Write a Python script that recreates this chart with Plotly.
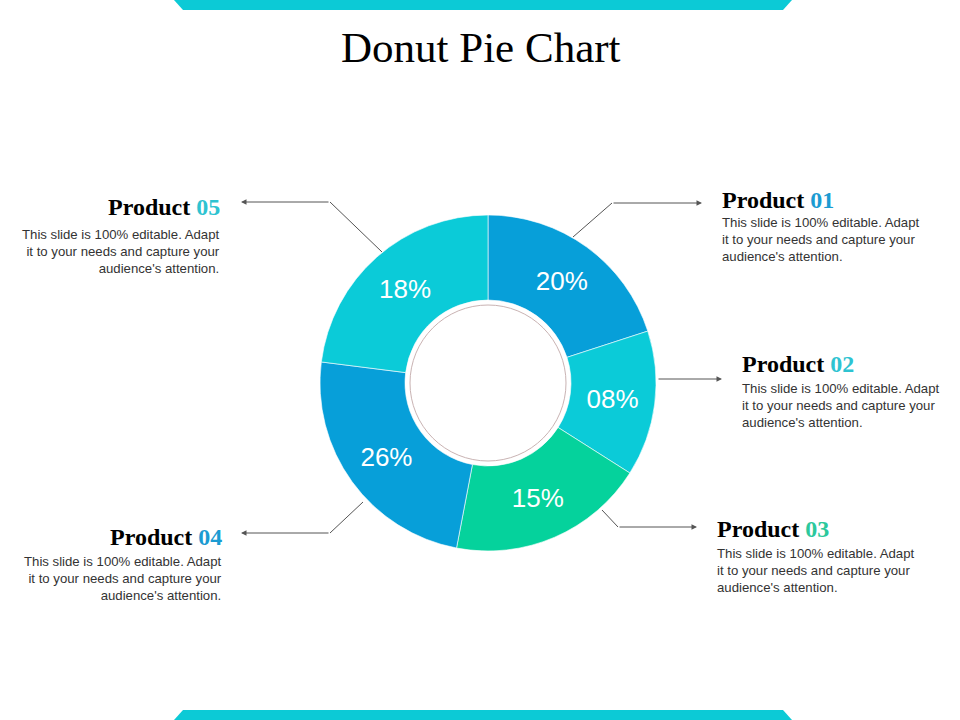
import plotly.graph_objects as go

# slice data (slice sizes follow the drawn angles,
# the printed labels are what the slide shows)
products = ["Product 01", "Product 02", "Product 03", "Product 04", "Product 05"]
slice_sizes = [20, 14, 19, 24, 23]
slice_labels = ["20%", "08%", "15%", "26%", "18%"]
slice_colors = ["#079fd9", "#0bcbd8", "#05d29c", "#079fd9", "#0bcbd8"]
number_colors = ["#1b9bd2", "#2ec3d1", "#2cc89c", "#1b9bd2", "#2ec3d1"]
blurb = "This slide is 100% editable. Adapt<br>it to your needs and capture your<br>audience's attention."

W, H = 960, 720


def px(x):
    return x / W


def py(y):
    return 1 - y / H


# donut geometry in pixels
cx, cy, r_out, r_in = 488, 383, 168, 83

fig = go.Figure(go.Pie(
    labels=products,
    values=slice_sizes,
    text=slice_labels,
    textinfo="text",
    textposition="inside",
    insidetextorientation="horizontal",
    textfont=dict(family="Liberation Sans, Arial", size=26, color="white"),
    marker=dict(colors=slice_colors, line=dict(color="rgba(255,255,255,0.6)", width=1)),
    hole=r_in / r_out,
    sort=False,
    direction="clockwise",
    rotation=0,
    showlegend=False,
    hoverinfo="label+text",
    domain=dict(x=[px(cx - r_out), px(cx + r_out)], y=[py(cy + r_out), py(cy - r_out)]),
))

shapes = []
# teal bars at top and bottom of the slide
shapes.append(dict(type="path", xref="paper", yref="paper",
                   path=f"M {px(174)},{py(0)} L {px(792)},{py(0)} L {px(783)},{py(10)} L {px(183)},{py(10)} Z",
                   fillcolor="#0ccad6", line=dict(width=0)))
shapes.append(dict(type="path", xref="paper", yref="paper",
                   path=f"M {px(183)},{py(710)} L {px(783)},{py(710)} L {px(792)},{py(720)} L {px(174)},{py(720)} Z",
                   fillcolor="#0ccad6", line=dict(width=0)))
# thin ring inside the hole
shapes.append(dict(type="circle", xref="paper", yref="paper",
                   x0=px(cx - 78), x1=px(cx + 78), y0=py(cy + 78), y1=py(cy - 78),
                   line=dict(color="#c9b3b3", width=1)))

# connector lines: (start on donut, elbow, arrow tip)
connectors = [
    ((573, 237), (612, 203), (702, 203)),
    ((657, 379), (657, 379), (722, 379)),
    ((602, 510), (618, 527), (697, 527)),
    ((363, 502), (330, 533), (241, 533)),
    ((382, 252), (330, 202), (241, 202)),
]

annotations = []
for (a, b, tip) in connectors:
    if a != b:
        shapes.append(dict(type="line", xref="paper", yref="paper",
                           x0=px(a[0]), y0=py(a[1]), x1=px(b[0]), y1=py(b[1]),
                           line=dict(color="#555555", width=1)))
    annotations.append(dict(xref="paper", yref="paper", axref="pixel", ayref="pixel",
                            x=px(tip[0]), y=py(tip[1]), ax=b[0] - tip[0], ay=b[1] - tip[1],
                            text="", showarrow=True, arrowhead=2, arrowsize=1.1,
                            arrowwidth=1, arrowcolor="#555555"))

# text blocks: (x, title y, blurb y, anchor)
blocks = [
    (720, 200, 240, "left"),
    (740, 364, 405, "left"),
    (715, 529, 570, "left"),
    (224, 537, 578, "right"),
    (222, 207, 252, "right"),
]
for i, (x, ty, by, side) in enumerate(blocks):
    name, num = products[i].split()
    annotations.append(dict(
        xref="paper", yref="paper", x=px(x), y=py(ty), xanchor=side, yanchor="middle",
        showarrow=False,
        text=f"<b>{name} <span style='color:{number_colors[i]}'>{num}</span></b>",
        font=dict(family="Liberation Serif, Times New Roman", size=24, color="black"),
    ))
    annotations.append(dict(
        xref="paper", yref="paper", x=px(x), y=py(by), xanchor=side, yanchor="middle",
        showarrow=False, align=side, text=blurb,
        font=dict(family="Liberation Sans, Arial", size=13.2, color="#333333"),
    ))

annotations.append(dict(
    xref="paper", yref="paper", x=px(481), y=py(48), xanchor="center", yanchor="middle",
    showarrow=False, text="Donut Pie Chart",
    font=dict(family="Liberation Serif, Times New Roman", size=43, color="black"),
))

fig.update_layout(
    width=W, height=H,
    margin=dict(l=0, r=0, t=0, b=0),
    paper_bgcolor="white",
    plot_bgcolor="white",
    shapes=shapes,
    annotations=annotations,
)

# the page body has a default 8px margin; drop it so the slide sits at 0,0
fig.write_html("out.html", config={"displayModeBar": False},
               post_script="document.body.style.margin='0';document.body.style.overflow='hidden';")
